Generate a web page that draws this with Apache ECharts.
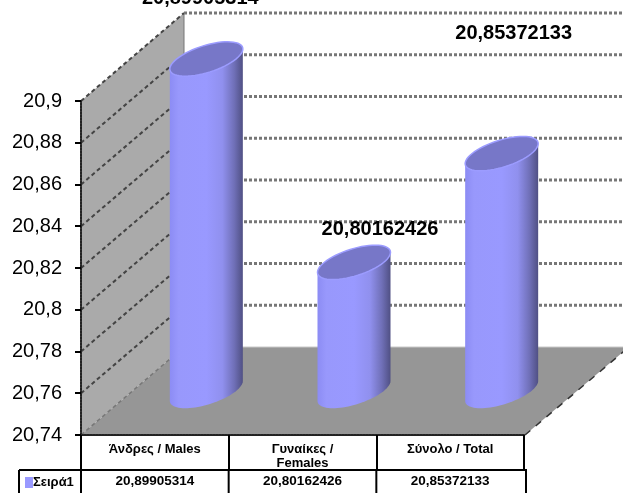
<!DOCTYPE html>
<html>
<head>
<meta charset="utf-8">
<style>html,body{margin:0;padding:0;background:#fff}#c{width:623px;height:493px}</style>
<script src="https://cdn.jsdelivr.net/npm/echarts@6/dist/echarts.min.js"></script>
</head>
<body>
<div id="c"></div>
<script>
const categories = ['Άνδρες / Males', 'Γυναίκες /\nFemales', 'Σύνολο / Total'];
const values = [20.89905314, 20.80162426, 20.85372133];
const yTicks = [20.74, 20.76, 20.78, 20.8, 20.82, 20.84, 20.86, 20.88, 20.9];
const seriesName = 'Σειρά1';

const yMin = 20.74, yMax = 20.9, yStep = 0.02;
const FONT = '"Liberation Sans", Arial, sans-serif';
const DX = 103, DY = -88;                 // depth of the 3D box
const MX = DX / 2, MY = DY / 2;           // cylinders stand mid-depth
const A = 36.5, S = 10, B = 14;           // sheared ellipse of the cylinder
const LABEL_SHIFT = [[-6, -60], [26, -33], [12, -120]]; // hand-moved data labels
const TABLE_H1 = 470, TABLE_TEXT = 481, TABLE_L = 19, TABLE_R = 526, CANVAS_B = 493;

const fmt = v => v.toFixed(8).replace('.', ',');
const line = (x1, y1, x2, y2, stroke, lineWidth, lineDash) => ({
  type: 'line', silent: true,
  shape: { x1, y1, x2, y2 },
  style: { stroke, lineWidth, lineDash: lineDash || null, fill: null }
});
const poly = (points, fill, stroke, lineWidth) => ({
  type: 'polygon', silent: true,
  shape: { points },
  style: { fill, stroke: stroke || null, lineWidth: lineWidth || 0 }
});
const ellipsePts = (cx, cy, from, to, n) => {
  const out = [];
  for (let k = 0; k <= n; k++) {
    const t = from + (to - from) * k / n;
    out.push([cx + A * Math.cos(t), cy - S * Math.cos(t) + B * Math.sin(t)]);
  }
  return out;
};

function renderBox(params, api) {
  const cs = params.coordSys;
  const x0 = cs.x, x1 = cs.x + cs.width;
  const yB = api.coord([0, yMin])[1], yT = api.coord([0, yMax])[1];
  return { type: 'group', children: [
    poly([[x0, yT], [x0 + DX, yT + DY], [x0 + DX, yB + DY], [x0, yB]], '#aaaaaa'),
    line(x0 + DX, yT + DY, x0 + DX, yB + DY, '#777', 1),
    poly([[x0, yB], [x0 + DX, yB + DY], [x1 + DX + 2, yB + DY], [x1 + 1, yB]], '#969696'),
    line(x0 + DX, yB + DY, x1 + DX + 2, yB + DY, '#c8c8c8', 1),
    line(x1 + 1, yB, x1 + DX + 2, yB + DY, '#333', 1.5, [7, 7])
  ]};
}

function renderGrid(params, api) {
  const cs = params.coordSys;
  const x0 = cs.x, x1 = cs.x + cs.width;
  const v = api.value(1);
  const y = api.coord([0, v])[1];
  if (v <= yMin) return line(x0, y, x0 + DX, y + DY, '#777', 1.5, [4, 3]);
  return { type: 'group', children: [
    line(x0, y, x0 + DX, y + DY, '#444', 2, [4, 3]),
    line(x0 + DX, y + DY, x1 + DX + 2, y + DY, '#777', 3, [3, 2])
  ]};
}

function renderCylinder(params, api) {
  const i = api.value(0), v = api.value(1);
  const top = api.coord([i, v]), base = api.coord([i, yMin]);
  const cx = top[0] + MX, cyT = top[1] + MY, cyB = base[1] + MY;
  const body = [[cx - A, cyT + S]]
    .concat(ellipsePts(cx, cyB, Math.PI, 0, 40))
    .concat([[cx + A, cyT - S]]);
  const grad = new echarts.graphic.LinearGradient(0, 0, 1, 0, [
    { offset: 0, color: '#8c8cf4' },
    { offset: 0.12, color: '#9898fc' },
    { offset: 0.5, color: '#9999ff' },
    { offset: 0.72, color: '#9090ee' },
    { offset: 0.88, color: '#7070b8' },
    { offset: 1, color: '#505084' }
  ]);
  const s = LABEL_SHIFT[i];
  return { type: 'group', children: [
    poly(body, grad),
    poly(ellipsePts(cx, cyT, 0, Math.PI * 2, 60), '#7777c8', '#9c9cff', 1.5),
    { type: 'text', silent: true,
      style: { x: cx + s[0], y: cyT + s[1], text: fmt(v), fill: '#000',
        font: 'bold 20px ' + FONT, align: 'center', verticalAlign: 'middle' } }
  ]};
}

function renderTable(params, api) {
  const i = api.value(0), v = api.value(1);
  const cs = params.coordSys;
  const band = cs.width / categories.length;
  const cx = api.coord([i, yMin])[0];
  const kids = [
    { type: 'text', silent: true,
      style: { x: cx, y: TABLE_TEXT, text: fmt(v), fill: '#000',
        font: 'bold 13.5px ' + FONT, align: 'center', verticalAlign: 'middle' } },
    line(cx - band / 2, TABLE_H1, cx - band / 2, CANVAS_B, '#000', 2)
  ];
  if (i === categories.length - 1) {
    kids.push(line(TABLE_R, TABLE_H1, TABLE_R, CANVAS_B, '#000', 2));
    kids.push(line(TABLE_L, TABLE_H1, TABLE_R + 1, TABLE_H1, '#000', 2));
    kids.push(line(TABLE_L, TABLE_H1, TABLE_L, CANVAS_B, '#000', 2));
  }
  return { type: 'group', children: kids };
}

const bars = values.map((v, i) => [i, v]);
const chart = echarts.init(document.getElementById('c'), null, { renderer: 'canvas' });
chart.setOption({
  animation: false,
  backgroundColor: '#fff',
  grid: { left: 81, top: 101, width: 443, height: 334, containLabel: false },
  legend: {
    data: [seriesName], left: 25, top: 476, padding: 0, selectedMode: false,
    icon: 'rect', itemWidth: 8, itemHeight: 11, itemGap: 2,
    textStyle: { fontFamily: FONT, fontSize: 13, fontWeight: 'bold', color: '#000', padding: [0, 0, 0, -5] }
  },
  xAxis: {
    type: 'category', data: categories, z: 10,
    axisLine: { lineStyle: { color: '#222', width: 2, type: [2, 1] } },
    axisTick: { show: true, length: 35, inside: false, lineStyle: { color: '#000', width: 2 } },
    axisLabel: { fontFamily: FONT, fontSize: 13, fontWeight: 'bold', color: '#000',
      margin: 7, lineHeight: 14, interval: 0 }
  },
  yAxis: {
    type: 'value', min: yMin, max: yMax, interval: yStep, z: 10,
    splitLine: { show: false },
    axisLine: { show: true, lineStyle: { color: '#222', width: 2, type: [2, 1] } },
    axisTick: { show: true, length: 6, lineStyle: { color: '#000', width: 2 } },
    axisLabel: { fontFamily: FONT, fontSize: 20, color: '#000', margin: 19,
      formatter: v => String(+v.toFixed(2)).replace('.', ',') }
  },
  series: [
    { type: 'custom', name: 'box', z: 1, silent: true, clip: false, renderItem: renderBox,
      data: [[0, yMin]], encode: { x: 0, y: 1 } },
    { type: 'custom', name: 'grid', z: 2, silent: true, clip: false, renderItem: renderGrid,
      data: yTicks.map(v => [0, v]), encode: { x: 0, y: 1 } },
    { type: 'custom', name: seriesName, z: 3, silent: true, clip: false, renderItem: renderCylinder,
      itemStyle: { color: '#9999ff' }, data: bars, encode: { x: 0, y: 1 } },
    { type: 'custom', name: 'table', z: 4, silent: true, clip: false, renderItem: renderTable,
      data: bars, encode: { x: 0, y: 1 } }
  ]
});
</script>
</body>
</html>
